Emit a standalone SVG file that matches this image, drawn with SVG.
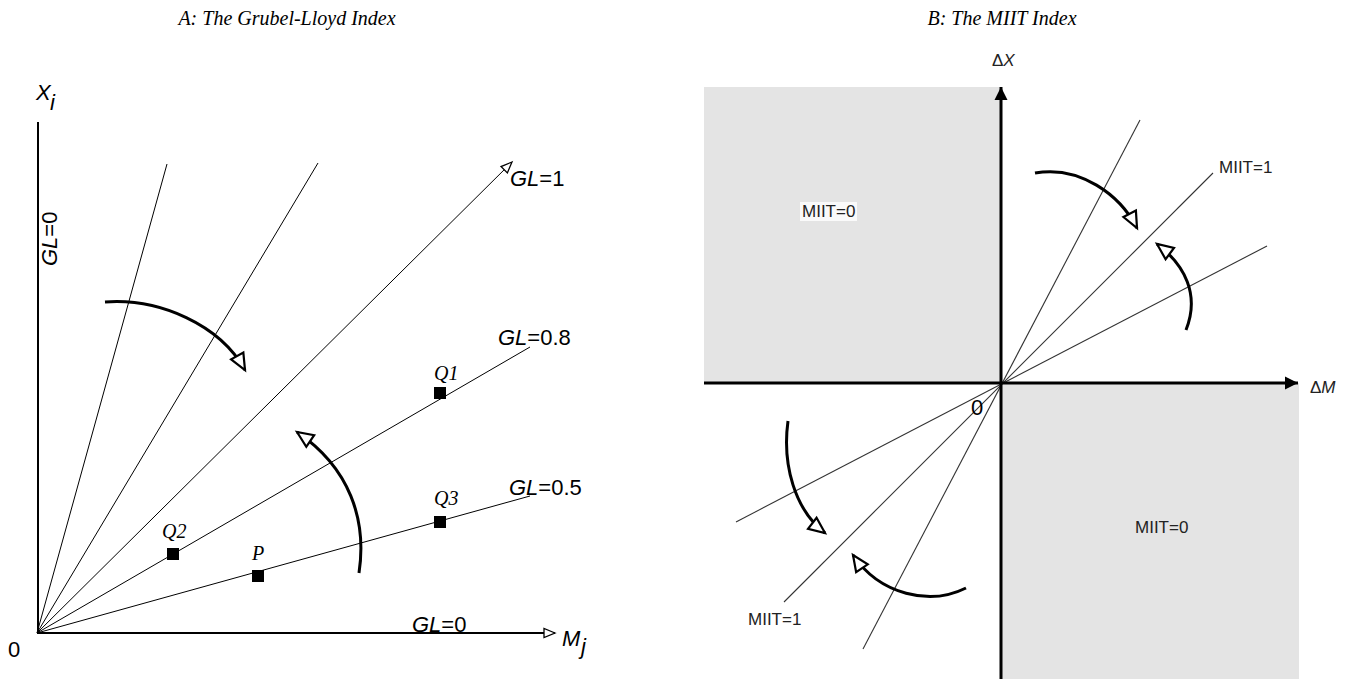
<svg xmlns="http://www.w3.org/2000/svg" width="1362" height="679" viewBox="0 0 1362 679">
<style>
.title{font-family:"Liberation Serif",serif;font-style:italic;font-size:20px;fill:#000}
.lab{font-family:"Liberation Sans",Arial,sans-serif;font-size:22px;fill:#000}
.it{font-style:italic}
.pt{font-family:"Liberation Serif",serif;font-style:italic;font-size:20px;fill:#000}
.miit{font-family:"Liberation Sans",Arial,sans-serif;font-size:17px;fill:#222}
.ray{stroke:#000;stroke-width:1;fill:none}
.rayB{stroke:#333;stroke-width:1.1;fill:none}
.curve{stroke:#000;stroke-width:3;fill:none;marker-end:url(#bigOpen)}
.axisA{stroke:#000;stroke-width:2;fill:none}
.axisB{stroke:#000;stroke-width:3;fill:none}
.sq{fill:#000}
.shade{fill:#e4e4e4}
</style>
<defs>
<marker id="smallOpen" markerUnits="userSpaceOnUse" viewBox="-14 -8 16 16" markerWidth="16" markerHeight="16" refX="0" refY="0" orient="auto" overflow="visible">
<path d="M0,0 L-11,-4.5 L-11,4.5 Z" fill="#fff" stroke="#000" stroke-width="1.3"/>
</marker>
<marker id="bigOpen" markerUnits="userSpaceOnUse" viewBox="-20 -10 22 20" markerWidth="22" markerHeight="20" refX="0" refY="0" orient="auto" overflow="visible">
<path d="M0,0 L-16,-7 L-16,7 Z" fill="#fff" stroke="#000" stroke-width="2.2" stroke-linejoin="miter"/>
</marker>
<marker id="filled" markerUnits="userSpaceOnUse" viewBox="-16 -8 18 16" markerWidth="18" markerHeight="16" refX="0" refY="0" orient="auto" overflow="visible">
<path d="M0,0 L-13,-6.5 L-13,6.5 Z" fill="#000"/>
</marker>
</defs>

<g id="titles">
<text class="title" x="287" y="25" text-anchor="middle">A: The Grubel-Lloyd Index</text>
<text class="title" x="1002" y="25" text-anchor="middle">B: The MIIT Index</text>
</g>

<!-- Panel A -->
<g id="panelA-shapes">
<line class="axisA" x1="38" y1="122" x2="38" y2="634"/>
<line class="axisA" x1="37" y1="633" x2="555" y2="633" stroke-width="1.5" marker-end="url(#smallOpen)"/>
</g>

<g id="connectorsA">
<line class="ray" x1="37" y1="633" x2="167" y2="164"/>
<line class="ray" x1="37" y1="633" x2="318" y2="163"/>
<line class="ray" x1="37" y1="633" x2="512" y2="162" stroke-width="2" marker-end="url(#smallOpen)"/>
<line class="ray" x1="37" y1="633" x2="530" y2="347"/>
<line class="ray" x1="37" y1="633" x2="530" y2="496"/>
<path class="curve" d="M105,302 C160,298 220,325 245,370"/>
<path class="curve" d="M359,573 C367,520 350,468 297,432"/>
</g>

<g id="labelsA">
<text class="lab it" x="36" y="100">X</text>
<text class="lab it" x="50" y="110" font-size="13">i</text>
<text class="lab" x="8" y="657" font-size="19">0</text>
<text class="lab it" x="562" y="646">M</text>
<text class="lab it" x="581" y="654" font-size="14">j</text>
<text class="lab" transform="translate(57,266) rotate(-90)"><tspan class="it">GL</tspan>=0</text>
<text class="lab" x="510" y="186"><tspan class="it">GL</tspan>=1</text>
<text class="lab" x="498" y="345"><tspan class="it">GL</tspan>=0.8</text>
<text class="lab" x="509" y="495"><tspan class="it">GL</tspan>=0.5</text>
<text class="lab" x="412" y="632"><tspan class="it">GL</tspan>=0</text>
</g>

<g id="nodeQ1"><rect class="sq" x="434" y="387" width="12" height="12"/><text class="pt" x="434" y="380">Q1</text></g>
<g id="nodeQ3"><rect class="sq" x="434" y="516" width="12" height="12"/><text class="pt" x="434" y="505">Q3</text></g>
<g id="nodeQ2"><rect class="sq" x="167" y="548" width="12" height="12"/><text class="pt" x="162" y="538">Q2</text></g>
<g id="nodeP"><rect class="sq" x="252" y="570" width="12" height="12"/><text class="pt" x="252" y="560">P</text></g>

<!-- Panel B -->
<g id="panelB-shapes">
<rect class="shade" x="704" y="87" width="297" height="296"/>
<rect class="shade" x="1001" y="383" width="298" height="296"/>
<rect x="800" y="202" width="57" height="19" fill="#fafafa"/>
</g>

<g id="connectorsB">
<line class="rayB" x1="863" y1="649" x2="1140" y2="120"/>
<line class="rayB" x1="784" y1="602" x2="1213" y2="173"/>
<line class="rayB" x1="736" y1="522" x2="1267" y2="246"/>
<line class="axisB" x1="1001" y1="679" x2="1001" y2="87" marker-end="url(#filled)"/>
<line class="axisB" x1="704" y1="383" x2="1298" y2="383" marker-end="url(#filled)"/>
<path class="curve" d="M1035,173 C1080,165 1120,195 1137,228"/>
<path class="curve" d="M1186,330 C1200,295 1185,265 1157,244"/>
<path class="curve" d="M788,421 C782,465 795,510 825,533"/>
<path class="curve" d="M966,588 C930,606 880,595 853,555"/>
</g>

<g id="labelsB">
<text class="miit" x="992" y="66" fill="#444">Δ<tspan font-style="italic">X</tspan></text>
<text class="miit" x="1310" y="393" fill="#444">Δ<tspan font-style="italic">M</tspan></text>
<text class="lab" x="971" y="415" font-size="22">0</text>
<text class="miit" x="1219" y="173">MIIT=1</text>
<text class="miit" x="748" y="625">MIIT=1</text>
<text class="miit" x="802" y="217">MIIT=0</text>
<text class="miit" x="1135" y="533">MIIT=0</text>
</g>
</svg>
